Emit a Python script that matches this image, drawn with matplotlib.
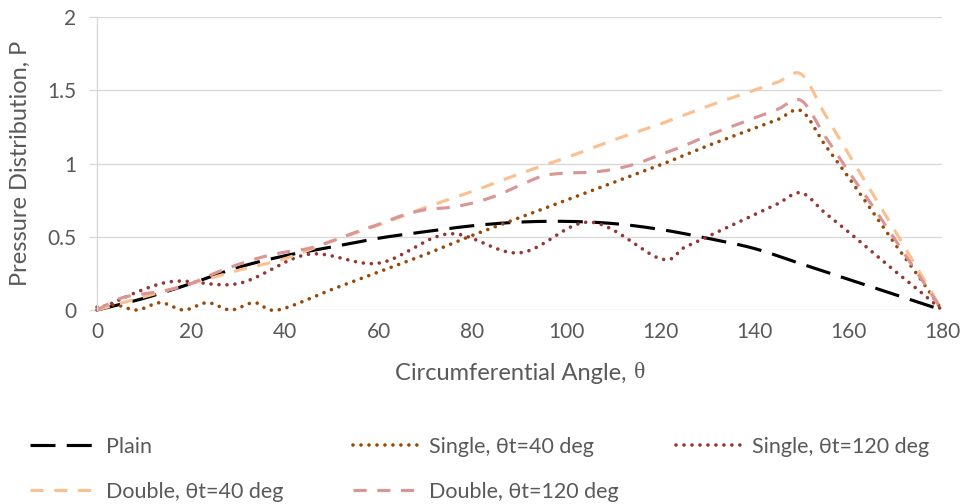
import matplotlib as mpl
mpl.use('Agg')
import matplotlib.pyplot as plt
import numpy as np

# pressure distribution around the bearing, read at the listed angles (deg)
ang_plain = [0, 10, 20, 30, 40, 50, 60, 70, 80, 90, 100, 110, 120, 130, 140, 150, 160, 170, 180]
p_plain = [0, 0.08, 0.18, 0.29, 0.37, 0.43, 0.49, 0.535, 0.575, 0.60, 0.605, 0.59, 0.55, 0.49, 0.42, 0.315, 0.21, 0.105, 0]

ang_s40 = [0, 4, 8.5, 13.5, 18.5, 23.5, 28.5, 33.5, 38.5, 50, 60, 70, 80, 90, 100, 110, 120, 130, 140,
           145, 150, 155, 160, 165, 170, 175, 180]
p_s40 = [0.02, 0.035, 0, 0.05, 0, 0.05, 0, 0.05, 0, 0.14, 0.26, 0.38, 0.51, 0.63, 0.75, 0.87, 0.99, 1.12, 1.24,
         1.30, 1.36, 1.13, 0.91, 0.68, 0.45, 0.23, 0]

ang_s120 = [0, 15, 30, 45, 60, 75, 90, 105, 120, 125, 130, 135, 140, 145, 150, 155, 160, 165, 170, 175, 180]
p_s120 = [0, 0.19, 0.18, 0.38, 0.32, 0.52, 0.39, 0.60, 0.35, 0.425, 0.50, 0.575, 0.65, 0.725, 0.80,
          0.665, 0.535, 0.40, 0.265, 0.135, 0]

ang_d40 = [0, 10, 20, 30, 40, 50, 60, 70, 80, 90, 100, 110, 120, 130, 140, 145, 150, 155, 160, 165, 170, 175, 180]
p_d40 = [0, 0.09, 0.18, 0.27, 0.35, 0.47, 0.58, 0.70, 0.81, 0.93, 1.04, 1.16, 1.27, 1.39, 1.50, 1.555, 1.61,
         1.34, 1.07, 0.805, 0.54, 0.27, 0]

ang_d120 = list(range(0, 185, 5))
p_d120 = [0, 0.08, 0.11, 0.135, 0.18, 0.25, 0.31, 0.36, 0.395, 0.42, 0.47, 0.53, 0.585, 0.645, 0.685, 0.70,
          0.73, 0.78, 0.85, 0.915, 0.935, 0.94, 0.96, 1.0, 1.06, 1.12, 1.19, 1.25, 1.31, 1.37, 1.43,
          1.19, 0.95, 0.72, 0.48, 0.24, 0]

labels = ['Plain', 'Single, θt=40 deg', 'Single, θt=120 deg',
          'Double, θt=40 deg', 'Double, θt=120 deg']
xticks = [0, 20, 40, 60, 80, 100, 120, 140, 160, 180]
yticks = [0, 0.5, 1, 1.5, 2]


def smooth(x, y, n=20):
	# spreadsheet-style smoothed line: bezier through the points
	P = np.column_stack([x, y]).astype(float)
	P = np.vstack([P[0], P, P[-1]])
	t = np.linspace(0, 1, n)[:, None]
	out = []
	for i in range(1, len(P) - 2):
		p0, p3 = P[i], P[i + 1]
		b1 = p0 + (P[i + 1] - P[i - 1]) / 6.0
		b2 = p3 - (P[i + 2] - P[i]) / 6.0
		seg = (1 - t)**3 * p0 + 3 * (1 - t)**2 * t * b1 + 3 * (1 - t) * t**2 * b2 + t**3 * p3
		out.append(seg if i == 1 else seg[1:])
	out = np.vstack(out)
	return out[:, 0], out[:, 1]


plt.rcParams['font.family'] = ['Lato', 'DejaVu Sans']
grey = '#595959'
fig = plt.figure(figsize=(9.63, 5.04), dpi=100)
ax = fig.add_axes([97/963, 1 - 310/504, 845/963, 293/504])

long_dash = (0, (8, 3.6))
dash = (0, (4.2, 3.4))
dot = (0, (0.01, 2.2))
series = [
	(ang_plain, p_plain, 'black', long_dash, 'butt', 2.25),
	(ang_s40, p_s40, '#984807', dot, 'round', 2.6),
	(ang_s120, p_s120, '#953735', dot, 'round', 2.6),
	(ang_d40, p_d40, '#FAC090', dash, 'butt', 2.25),
	(ang_d120, p_d120, '#D99694', dash, 'butt', 2.25),
]
lines = []
for (xx, yy, c, ls, cap, lw), lab in zip(series, labels):
	sx, sy = smooth(xx, yy)
	l, = ax.plot(sx, sy, color=c, lw=lw, linestyle=ls, dash_capstyle=cap, label=lab, clip_on=False)
	lines.append(l)

ax.set_xlim(0, 180)
ax.set_ylim(0, 2)
ax.set_xticks(xticks)
ax.set_xticklabels([str(v) for v in xticks])
ax.set_yticks(yticks)
ax.set_yticklabels(['0', '0.5', '1', '1.5', '2'])
ax.grid(axis='y', color='#D9D9D9', lw=1.0)
ax.set_axisbelow(True)
for s in ['top', 'right', 'bottom']:
	ax.spines[s].set_visible(False)
ax.spines['left'].set_color('#D9D9D9')
ax.spines['left'].set_linewidth(1.0)
ax.tick_params(axis='y', length=6, color='#D9D9D9', width=1.0, pad=9, labelsize=15, labelcolor=grey)
ax.tick_params(axis='x', length=0, pad=9, labelsize=15, labelcolor=grey)

fig.text(632/963, 1 - 373/504, 'Circumferential Angle, ', ha='right', va='center',
         fontsize=17, color=grey)
fig.text(634/963, 1 - 373/504, 'θ', ha='left', va='center', fontsize=17, color=grey,
         family=['Liberation Serif', 'DejaVu Serif'])
fig.text(20/963, 1 - 163/504, 'Pressure Distribution, P', rotation=90, ha='center', va='center',
         fontsize=17, color=grey)

# legend laid out as three equal-width columns
cols = [([lines[0], lines[3]], 30), ([lines[1], lines[4]], 353), ([lines[2]], 676)]
for hs, x0 in cols:
	leg = fig.legend(handles=hs, labels=[h.get_label() for h in hs], loc='upper left',
	                 bbox_to_anchor=(x0/963, 1 - 437/504), frameon=False, fontsize=15.5,
	                 handlelength=3.06, handletextpad=0.45, labelspacing=1.15, borderpad=0,
	                 borderaxespad=0, labelcolor=grey)

fig.savefig('out.png', dpi=100)
